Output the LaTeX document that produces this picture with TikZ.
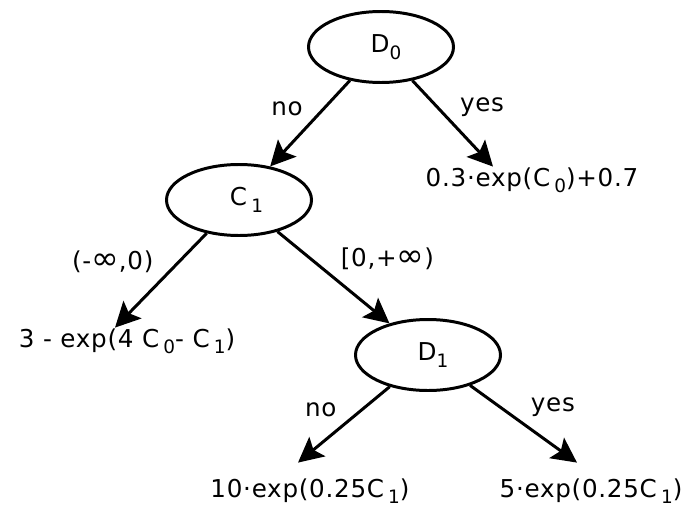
\documentclass[tikz,border=0pt]{standalone}
\usepackage{fontspec}
\usepackage{graphicx}
\setmainfont{DejaVu Sans}[LetterSpace=3]
\usetikzlibrary{arrows.meta,positioning,shapes.geometric}
\newcommand{\lowidx}[1]{\raisebox{-0.27em}{\fontsize{10.5pt}{12pt}\selectfont #1}}
\newcommand{\wideinf}{\scalebox{1.35}[1.3]{∞}}
\tikzset{
  test/.style={draw=black,ellipse,line width=1.7pt,minimum width=2.9cm,minimum height=1.42cm,inner sep=0pt,font=\fontsize{14pt}{16pt}\selectfont},
  leaf/.style={inner sep=.1cm,text height=.8em,text depth=.4em,font=\fontsize{14pt}{16pt}\selectfont},
  branch/.style={inner sep=.3333em,font=\fontsize{14pt}{16pt}\selectfont},
  flow/.style={-{Stealth[length=5mm,width=5mm,inset=1mm]},line width=1.7pt},
}

\begin{document}
\begin{tikzpicture}[on grid]
    \useasboundingbox (0,0) rectangle (13.74,-10.16);
    \node[test] (d0) at (7.62,-.94) {\hspace{.2cm}D\lowidx{0}};
    \node[test,below left=3.06cm and 2.84cm of d0] (c1) {\hspace{.3cm}C\,\lowidx{1}};
    \node[leaf,below right=2.71cm and 3.02cm of d0] (d0yes) {0.3·exp(C\,\lowidx{0})+0.7};
    \node[leaf,below left=2.87cm and 2.24cm of c1] (c1neg) {3 - exp(4 C\,\lowidx{0}- C\,\lowidx{1})};
    \node[test,below right=3.10cm and 3.78cm of c1] (d1) {\hspace{.2cm}D\lowidx{1}};
    \node[leaf,below left=2.77cm and 2.36cm of d1] (d1no) {10·exp(0.25C\,\lowidx{1})};
    \node[leaf,below right=2.77cm and 3.26cm of d1] (d1yes) {5·exp(0.25C\,\lowidx{1})};
    \draw[flow] (d0) -- node[branch,above left] {no} (c1);
    \draw[flow] (d0) -- node[branch,above right] {yes} ([xshift=-.78cm]d0yes.north);
    \draw[flow] (c1) -- node[branch,above left] {(-\wideinf,0)} ([xshift=-.24cm]c1neg.north);
    \draw[flow] (c1) -- node[branch,above right] {[0,+\wideinf)} (d1);
    \draw[flow] (d1) -- node[branch,above left] {no} ([xshift=-.24cm,yshift=.3cm]d1no.north);
    \draw[flow] (d1) -- node[branch,above right] {yes} ([xshift=-.28cm,yshift=.3cm]d1yes.north);
  \end{tikzpicture}
\end{document}
